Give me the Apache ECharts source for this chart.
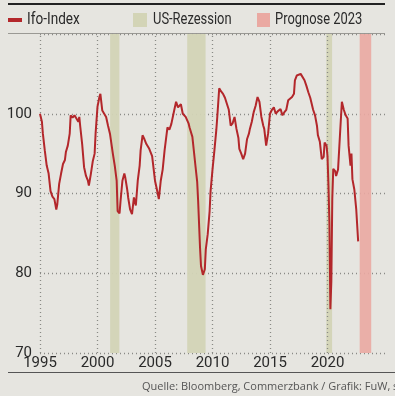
<!DOCTYPE html>
<html>
<head>
<meta charset="utf-8">
<script src="https://cdn.jsdelivr.net/npm/echarts@6/dist/echarts.min.js"></script>
<style>
  html, body { margin: 0; padding: 0; background: #e6e5e0; }
  #chart { width: 395px; height: 396px; }
</style>
</head>
<body>
<div id="chart"></div>
<script>
// Ifo business climate index, monthly readings (2015 = 100)
const months = [
  '1995-01','1995-03','1995-04','1995-06','1995-08','1995-10','1995-12',
  '1996-02','1996-04','1996-06','1996-07','1996-09','1996-11',
  '1997-01','1997-03','1997-04','1997-06','1997-08','1997-09','1997-11',
  '1998-01','1998-03','1998-05','1998-06','1998-07','1998-09','1998-11',
  '1999-01','1999-03','1999-04','1999-06','1999-08','1999-10','1999-11',
  '2000-01','2000-03','2000-04','2000-06','2000-08','2000-10','2000-12',
  '2001-02','2001-05','2001-07','2001-09','2001-10','2001-12',
  '2002-01','2002-03','2002-05','2002-06','2002-08','2002-09','2002-11',
  '2003-01','2003-03','2003-05','2003-07','2003-09','2003-10','2003-12',
  '2004-02','2004-04','2004-07','2004-09','2004-10',
  '2005-01','2005-03','2005-05','2005-07','2005-09','2005-11',
  '2006-02','2006-04','2006-06','2006-09','2006-11',
  '2007-01','2007-04','2007-06','2007-09','2007-12',
  '2008-01','2008-04','2008-07','2008-09','2008-10','2008-12',
  '2009-01','2009-03','2009-05','2009-06','2009-08','2009-10','2009-11',
  '2010-01','2010-03','2010-05','2010-06','2010-08','2010-10','2010-12',
  '2011-02','2011-04','2011-06','2011-08','2011-10','2011-12',
  '2012-02','2012-04','2012-05','2012-07','2012-09','2012-11',
  '2013-01','2013-03','2013-04','2013-06','2013-08','2013-10','2013-12',
  '2014-02','2014-04','2014-06','2014-07','2014-09','2014-11',
  '2015-01','2015-03','2015-05','2015-07','2015-09','2015-12',
  '2016-02','2016-04','2016-06','2016-08','2016-10','2016-12',
  '2017-02','2017-03','2017-05','2017-07','2017-09','2017-11',
  '2018-01','2018-03','2018-05','2018-07','2018-08','2018-10','2018-12',
  '2019-02','2019-03','2019-05','2019-07','2019-09','2019-10','2019-12',
  '2020-01','2020-02','2020-03','2020-04','2020-05','2020-06','2020-07','2020-09','2020-10','2020-12',
  '2021-02','2021-04','2021-06','2021-08','2021-10','2021-11',
  '2022-01','2022-02','2022-03','2022-05','2022-07','2022-09'
];
const ifoIndex = [
  100.0, 99.0, 97.5, 95.4, 93.5, 92.5, 90.3,
  89.6, 89.3, 88.0, 88.6, 91.2, 92.5,
  93.7, 94.2, 95.2, 96.0, 97.5, 99.8, 99.5,
  99.8, 99.4, 99.0, 99.6, 98.4, 96.2, 93.3,
  92.2, 91.6, 91.0, 92.4, 94.0, 95.0, 97.5,
  100.9, 102.1, 102.5, 100.4, 100.0, 99.6, 98.5,
  97.5, 95.0, 93.5, 91.6, 87.8, 87.5,
  89.0, 91.6, 92.5, 92.0, 90.5, 89.5, 88.0,
  87.4, 89.5, 88.5, 91.6, 93.5, 95.4, 97.3,
  96.8, 96.2, 95.6, 95.8, 94.7,
  91.6, 90.5, 89.3, 91.6, 93.0, 95.4,
  98.3, 98.0, 98.7, 100.4, 101.5,
  100.8, 101.2, 100.0, 99.6, 98.8,
  98.3, 97.1, 93.7, 91.5, 89.1, 83.2,
  80.9, 79.8, 80.5, 83.0, 84.9, 87.8, 90.3,
  93.0, 95.4, 98.0, 99.6, 103.2, 102.8, 102.5,
  102.0, 101.9, 100.5, 98.5, 98.8, 99.6,
  98.1, 97.0, 95.6, 95.0, 94.3, 95.0,
  96.8, 97.5, 98.1, 99.0, 100.2, 101.0, 102.1,
  101.5, 99.6, 98.5, 98.1, 96.0, 97.5,
  100.0, 100.5, 100.8, 100.0, 100.3, 100.6,
  99.8, 100.2, 100.5, 101.7, 101.5, 102.1,
  102.5, 104.2, 104.8, 104.6, 105.0, 104.8,
  104.2, 103.5, 102.7, 102.0, 101.5, 100.5, 99.8,
  98.5, 97.3, 96.5, 94.3, 94.6, 96.4, 96.0,
  94.7, 91.0, 86.3, 75.5, 79.0, 89.3, 93.1, 92.8, 92.2, 93.0,
  97.3, 101.5, 100.5, 99.8, 99.4, 96.0,
  93.5, 95.0, 91.8, 90.5, 88.0, 84.0
];

// US recession periods and forecast window, as decimal years
const recessions = [[2001.1, 2001.9], [2007.8, 2009.4], [2019.9, 2020.4]];
const forecast = [[2022.8, 2023.8]];

const xTicks = [1995, 2000, 2005, 2010, 2015, 2020];
const yTicks = [70, 80, 90, 100];

const toYear = s => {
  const [y, m] = s.split('-').map(Number);
  return y + (m - 1) / 12;
};
const lineData = months.map((m, i) => [toYear(m), ifoIndex[i]]);

const FONT = "Roboto, 'Liberation Sans', sans-serif";
const INK = '#2a2a2a';
const RED = '#b3272b';
const GREEN = '#d3d4b6';
const PINK = '#eaa9a2';
const GRID = { color: '#8a8a86', type: [1, 3], width: 1.3 };

const chart = echarts.init(document.getElementById('chart'), null, { renderer: 'canvas' });
chart.setOption({
  backgroundColor: '#e6e5e0',
  animation: false,
  grid: { left: 40, right: 10, top: 34, bottom: 43 },
  xAxis: {
    type: 'value', min: 1995, max: 2025, interval: 5,
    axisLine: { show: false }, axisTick: { show: false },
    axisLabel: {
      color: INK, fontFamily: FONT, fontSize: 15, margin: 3,
      formatter: v => xTicks.includes(v) ? String(v) : ''
    },
    splitLine: { show: false }
  },
  yAxis: {
    type: 'value', min: 70, max: 110, interval: 10,
    axisLine: { show: false }, axisTick: { show: false },
    axisLabel: {
      color: INK, fontFamily: FONT, fontSize: 15, margin: 8,
      formatter: v => yTicks.includes(v) ? String(v) : ''
    },
    splitLine: { show: true, lineStyle: GRID }
  },
  series: [
    {
      name: 'US-Rezession', type: 'line', data: [], silent: true,
      markArea: {
        silent: true,
        itemStyle: { color: GREEN, opacity: 0.95 },
        data: recessions.map(r => [{ xAxis: r[0] }, { xAxis: r[1] }])
      },
      // vertical dotted gridlines at the labelled years
      markLine: {
        silent: true, symbol: 'none', label: { show: false },
        lineStyle: GRID,
        data: xTicks.map(v => ({ xAxis: v }))
      }
    },
    {
      name: 'Prognose 2023', type: 'line', data: [], silent: true,
      markArea: {
        silent: true,
        itemStyle: { color: PINK, opacity: 0.9 },
        data: forecast.map(r => [{ xAxis: r[0] }, { xAxis: r[1] }])
      }
    },
    {
      name: 'Ifo-Index', type: 'line', data: lineData, showSymbol: false,
      lineStyle: { color: RED, width: 2 }, z: 5
    }
  ],
  graphic: [
    { type: 'rect', shape: { x: 8, y: 3, width: 377, height: 2 }, style: { fill: '#222' } },
    { type: 'rect', shape: { x: 8, y: 33, width: 377, height: 1 }, style: { fill: '#9a9994' } },
    { type: 'rect', shape: { x: 8, y: 18, width: 14, height: 4 }, style: { fill: RED } },
    { type: 'text', x: 27, y: 20, scaleX: 0.8, style: { text: 'Ifo-Index', font: "17px " + FONT, fill: INK, textVerticalAlign: 'middle' } },
    { type: 'rect', shape: { x: 133, y: 13, width: 14, height: 14 }, style: { fill: GREEN } },
    { type: 'text', x: 153, y: 20, scaleX: 0.76, style: { text: 'US-Rezession', font: "17px " + FONT, fill: INK, textVerticalAlign: 'middle' } },
    { type: 'rect', shape: { x: 257, y: 13, width: 13, height: 14 }, style: { fill: PINK } },
    { type: 'text', x: 275, y: 20, scaleX: 0.76, style: { text: 'Prognose 2023', font: "17px " + FONT, fill: INK, textVerticalAlign: 'middle' } },
    { type: 'rect', shape: { x: 8, y: 372, width: 387, height: 1 }, style: { fill: '#555' } },
    { type: 'text', x: 142, y: 387, style: { text: 'Quelle: Bloomberg, Commerzbank / Grafik: FuW, sps', font: "11px 'Open Sans', sans-serif", fill: '#555', textVerticalAlign: 'middle' } }
  ]
});
</script>
</body>
</html>
